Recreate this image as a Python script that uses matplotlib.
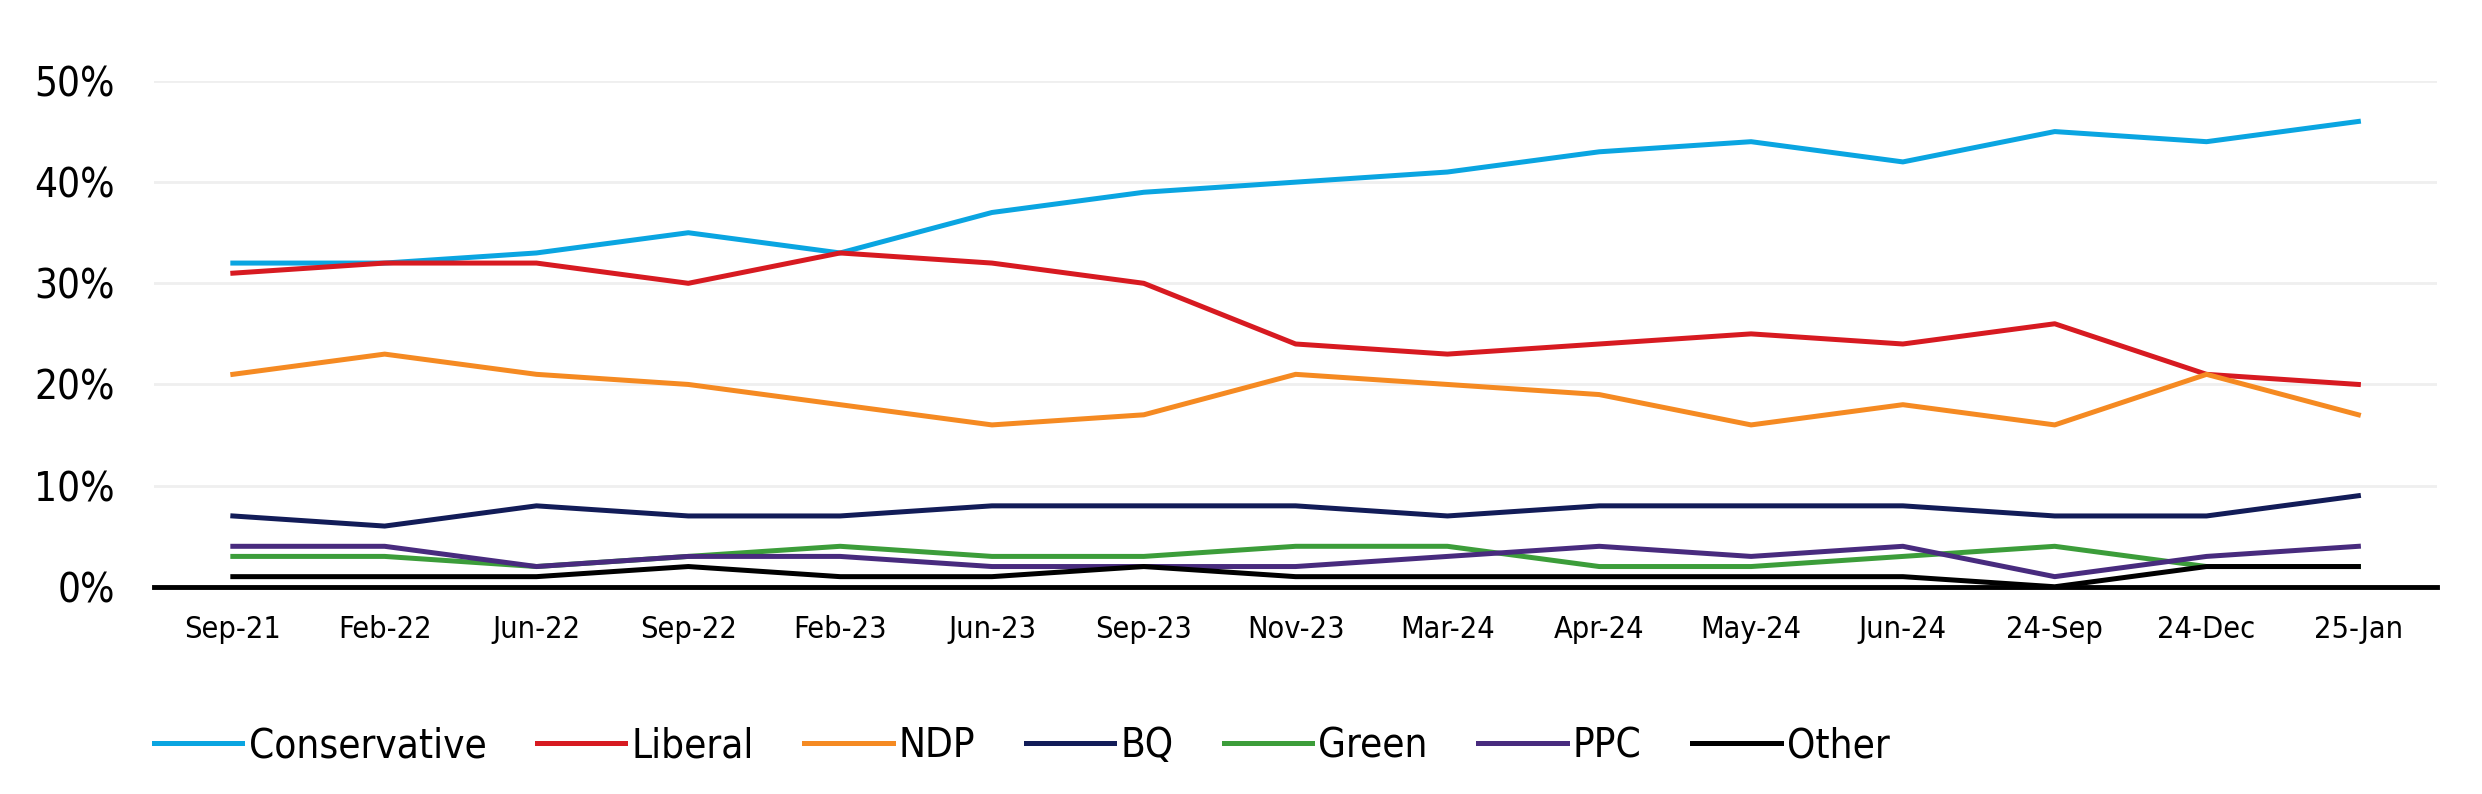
import matplotlib
matplotlib.use("Agg")
import matplotlib.pyplot as plt

# poll periods
periods = ["Sep-21", "Feb-22", "Jun-22", "Sep-22", "Feb-23", "Jun-23", "Sep-23", "Nov-23",
           "Mar-24", "Apr-24", "May-24", "Jun-24", "24-Sep", "24-Dec", "25-Jan"]

conservative = [32, 32, 33, 35, 33, 37, 39, 40, 41, 43, 44, 42, 45, 44, 46]
liberal = [31, 32, 32, 30, 33, 32, 30, 24, 23, 24, 25, 24, 26, 21, 20]
ndp = [21, 23, 21, 20, 18, 16, 17, 21, 20, 19, 16, 18, 16, 21, 17]
bq = [7, 6, 8, 7, 7, 8, 8, 8, 7, 8, 8, 8, 7, 7, 9]
green = [3, 3, 2, 3, 4, 3, 3, 4, 4, 2, 2, 3, 4, 2, 2]
ppc = [4, 4, 2, 3, 3, 2, 2, 2, 3, 4, 3, 4, 1, 3, 4]
other = [1, 1, 1, 2, 1, 1, 2, 1, 1, 1, 1, 1, 0, 2, 2]

series = [
    ("Conservative", conservative, "#0aa5e1"),
    ("Liberal", liberal, "#d71a21"),
    ("NDP", ndp, "#f58a22"),
    ("BQ", bq, "#121c58"),
    ("Green", green, "#3c9d3a"),
    ("PPC", ppc, "#482b7e"),
    ("Other", other, "#000000"),
]

plt.rcParams['font.family'] = ['DejaVu Sans']
plt.rcParams['font.stretch'] = 'condensed'

fig = plt.figure(figsize=(24.82, 7.94), dpi=100)
ax = fig.add_axes([0.062, 0.261, 0.92, 0.637])

x = list(range(len(periods)))
for name, vals, col in series:
    ax.plot(x, vals, color=col, lw=3.6, label=name)

ax.set_xlim(-0.52, len(periods) - 0.48)
ax.set_ylim(0, 50)
ax.set_yticks([0, 10, 20, 30, 40, 50])
ax.set_yticklabels([f"{v}%" for v in [0, 10, 20, 30, 40, 50]], fontsize=29)
ax.set_xticks(x)
ax.set_xticklabels(periods, fontsize=22)
ax.tick_params(axis='y', length=0, pad=28)
ax.tick_params(axis='x', length=0, pad=20)
ax.grid(axis='y', color='#efefef', lw=2)
ax.set_axisbelow(True)
for s in ['top', 'right', 'left']:
    ax.spines[s].set_visible(False)
ax.spines['bottom'].set_color('black')
ax.spines['bottom'].set_linewidth(3.5)

fig.legend(loc='center left', bbox_to_anchor=(0.062, 0.06), ncol=7, frameon=False,
           fontsize=29, handlelength=2.2, handletextpad=0.15, columnspacing=1.25,
           borderpad=0, borderaxespad=0)

fig.savefig("out.png", dpi=100)
